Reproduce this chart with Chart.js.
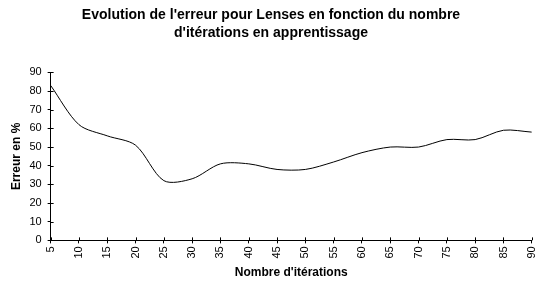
<!DOCTYPE html>
<html>
<head>
<meta charset="utf-8">
<script src="https://cdn.jsdelivr.net/npm/chart.js@4/dist/chart.umd.min.js"></script>
<style>
  html, body { margin: 0; padding: 0; background: #fff; }
</style>
</head>
<body>
<canvas id="myChart" width="548" height="283"></canvas>
<script>
// iterations (x) and error in % (y)
var iterations = [5, 10, 15, 20, 25, 30, 35, 40, 45, 50, 55, 60, 65, 70, 75, 80, 85, 90];
var erreur = [83, 62, 56, 51, 32, 33, 41, 41, 38, 38, 42, 47, 50, 50, 54, 54, 59, 58];
var yTicks = [0, 10, 20, 30, 40, 50, 60, 70, 80, 90];

var font = "Arial, 'Liberation Sans', sans-serif";

var points = iterations.map(function (x, i) { return { x: x, y: erreur[i] }; });

// tick marks in Excel cross the axis: draw the inner half here
var crossTicks = {
    id: 'crossTicks',
    afterDraw: function (chart) {
        var c = chart.ctx, xs = chart.scales.x, ys = chart.scales.y;
        c.save();
        c.strokeStyle = '#000';
        c.lineWidth = 1;
        c.beginPath();
        xs.ticks.forEach(function (t) {
            var px = Math.round(xs.getPixelForValue(t.value)) + 0.5;
            c.moveTo(px, xs.top);
            c.lineTo(px, xs.top - 3);
        });
        ys.ticks.forEach(function (t) {
            var py = Math.round(ys.getPixelForValue(t.value)) + 0.5;
            c.moveTo(ys.right, py);
            c.lineTo(ys.right + 3, py);
        });
        c.stroke();
        c.restore();
    }
};

var ctx = document.getElementById('myChart').getContext('2d');

var myChart = new Chart(ctx, {
    type: 'line',
    data: {
        datasets: [{
            data: points,
            borderColor: '#000',
            borderWidth: 1,
            pointRadius: 0,
            fill: false,
            tension: 0.3
        }]
    },
    options: {
        responsive: false,
        animation: false,
        layout: { padding: { left: 9, right: 15, top: 0, bottom: 3 } },
        plugins: {
            legend: { display: false },
            tooltip: { enabled: false },
            title: {
                display: true,
                text: ["Evolution de l'erreur pour Lenses en fonction du nombre", "d'itérations en apprentissage"],
                color: '#000',
                font: { family: font, size: 14, weight: 'bold', lineHeight: 1.3 },
                padding: { top: 6, bottom: 30 }
            }
        },
        scales: {
            x: {
                type: 'linear',
                min: 5,
                max: 90,
                border: { color: '#000', width: 1 },
                grid: { drawOnChartArea: false, drawTicks: true, tickLength: 3, color: '#000' },
                ticks: {
                    stepSize: 5,
                    color: '#000',
                    minRotation: 90,
                    maxRotation: 90,
                    padding: 3,
                    font: { family: font, size: 11 }
                },
                title: {
                    display: true,
                    text: "Nombre d'itérations",
                    color: '#000',
                    padding: { top: 4, bottom: 0 },
                    font: { family: font, size: 12, weight: 'bold' }
                }
            },
            y: {
                min: 0,
                max: 90,
                border: { color: '#000', width: 1 },
                grid: { drawOnChartArea: false, drawTicks: true, tickLength: 3, color: '#000' },
                afterBuildTicks: function (scale) {
                    scale.ticks = yTicks.map(function (v) { return { value: v }; });
                },
                ticks: {
                    color: '#000',
                    padding: 6,
                    font: { family: font, size: 11 }
                },
                title: {
                    display: true,
                    text: 'Erreur en %',
                    color: '#000',
                    padding: { top: 0, bottom: 0 },
                    font: { family: font, size: 12, weight: 'bold' }
                }
            }
        }
    },
    plugins: [{
        id: 'whiteBg',
        beforeDraw: function (chart) {
            var c = chart.ctx;
            c.save();
            c.fillStyle = '#fff';
            c.fillRect(0, 0, chart.width, chart.height);
            c.restore();
        }
    }, crossTicks]
});
</script>
</body>
</html>
